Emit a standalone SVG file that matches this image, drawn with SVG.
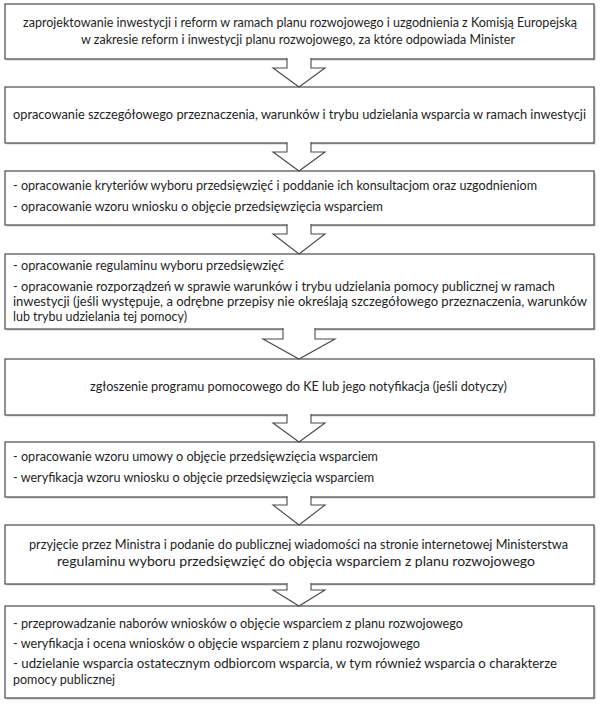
<svg xmlns="http://www.w3.org/2000/svg" width="600" height="706" viewBox="0 0 600 706">
<defs>
<style>
.box{fill:#fff;stroke:#4a4a4a;stroke-width:1.2}
.sh{fill:#a8a8a8;opacity:0.6}
.arr{fill:#fff;stroke:#4a4a4a;stroke-width:1.1;stroke-linejoin:miter}
text{font-family:Lato,"Open Sans","Liberation Sans",sans-serif;font-size:12.5px;fill:#1e1e1e}
.c{text-anchor:middle}
</style>
</defs>
<rect width="600" height="706" fill="#fff"/>
<g id="node1">
<rect class="sh" x="6.5" y="5.5" width="589" height="55"/>
<rect class="box" x="5" y="4" width="589" height="55"/>
<text class="c" x="300" y="27" textLength="554" lengthAdjust="spacingAndGlyphs">zaprojektowanie inwestycji i reform w ramach planu rozwojowego i uzgodnienia z Komisją  Europejską</text>
<text class="c" x="298" y="44" textLength="434" lengthAdjust="spacingAndGlyphs">w zakresie reform i inwestycji planu rozwojowego, za które odpowiada Minister</text>
</g>
<g id="node2">
<rect class="sh" x="6.5" y="88.5" width="589" height="56"/>
<rect class="box" x="5" y="87" width="589" height="56"/>
<text class="c" x="299.5" y="119" textLength="573" lengthAdjust="spacingAndGlyphs">opracowanie szczegółowego przeznaczenia, warunków i trybu udzielania wsparcia w ramach inwestycji</text>
</g>
<g id="node3">
<rect class="sh" x="6.5" y="172.5" width="589" height="54"/>
<rect class="box" x="5" y="171" width="589" height="54"/>
<text x="13" y="190" textLength="524" lengthAdjust="spacingAndGlyphs">- opracowanie kryteriów wyboru przedsięwzięć i poddanie ich konsultacjom  oraz uzgodnieniom</text>
<text x="13" y="211" textLength="370" lengthAdjust="spacingAndGlyphs">- opracowanie wzoru wniosku o objęcie przedsięwzięcia wsparciem</text>
</g>
<g id="node4">
<rect class="sh" x="6.5" y="255.5" width="589" height="75"/>
<rect class="box" x="5" y="254" width="589" height="75"/>
<text x="13" y="270" textLength="271" lengthAdjust="spacingAndGlyphs">- opracowanie regulaminu wyboru przedsięwzięć</text>
<text x="13" y="291" textLength="542" lengthAdjust="spacingAndGlyphs">- opracowanie rozporządzeń w sprawie warunków i trybu udzielania pomocy publicznej w ramach</text>
<text x="13" y="306" textLength="574" lengthAdjust="spacingAndGlyphs">inwestycji (jeśli występuje, a odrębne przepisy nie określają szczegółowego przeznaczenia, warunków</text>
<text x="13" y="321" textLength="174" lengthAdjust="spacingAndGlyphs">lub trybu udzielania tej pomocy)</text>
</g>
<g id="node5">
<rect class="sh" x="6.5" y="360.5" width="589" height="56"/>
<rect class="box" x="5" y="359" width="589" height="56"/>
<text class="c" x="298.5" y="391" textLength="417" lengthAdjust="spacingAndGlyphs">zgłoszenie programu pomocowego do KE lub jego notyfikacja (jeśli dotyczy)</text>
</g>
<g id="node6">
<rect class="sh" x="6.5" y="443.5" width="589" height="55"/>
<rect class="box" x="5" y="442" width="589" height="55"/>
<text x="13" y="461" textLength="365" lengthAdjust="spacingAndGlyphs">- opracowanie wzoru umowy o objęcie przedsięwzięcia wsparciem</text>
<text x="13" y="482" textLength="361" lengthAdjust="spacingAndGlyphs">- weryfikacja wzoru wniosku o objęcie przedsięwzięcia wsparciem</text>
</g>
<g id="node7">
<rect class="sh" x="6.5" y="526.5" width="589" height="59"/>
<rect class="box" x="5" y="525" width="589" height="59"/>
<text class="c" x="298.5" y="549" textLength="539" lengthAdjust="spacingAndGlyphs">przyjęcie przez Ministra i podanie do publicznej wiadomości na stronie internetowej Ministerstwa</text>
<text class="c" x="296" y="566" textLength="478" lengthAdjust="spacingAndGlyphs">regulaminu wyboru przedsięwzięć do objęcia wsparciem z planu rozwojowego</text>
</g>
<g id="node8">
<rect class="sh" x="6.5" y="607.5" width="589" height="92"/>
<rect class="box" x="5" y="606" width="589" height="92"/>
<text x="13" y="628" textLength="450" lengthAdjust="spacingAndGlyphs">- przeprowadzanie naborów wniosków o objęcie wsparciem z planu rozwojowego</text>
<text x="13" y="648" textLength="407" lengthAdjust="spacingAndGlyphs">- weryfikacja i ocena wniosków  o objęcie wsparciem z planu rozwojowego</text>
<text x="13" y="668" textLength="544" lengthAdjust="spacingAndGlyphs">-  udzielanie wsparcia ostatecznym odbiorcom  wsparcia, w tym również wsparcia o charakterze</text>
<text x="13" y="684" textLength="102" lengthAdjust="spacingAndGlyphs">pomocy publicznej</text>
</g>
<g id="connectors">
<path class="arr" d="M287,58 L287,68 L273,68 L299,87 L325,68 L311,68 L311,58"/>
<path class="arr" d="M287,142 L287,152 L273,152 L299,171 L325,152 L311,152 L311,142"/>
<path class="arr" d="M287,224 L287,234 L273,234 L299,254 L325,234 L311,234 L311,224"/>
<path class="arr" d="M283,328 L283,339 L263,339 L299,359 L335,339 L315,339 L315,328"/>
<path class="arr" d="M287,414 L287,423 L273,423 L299,442 L325,423 L311,423 L311,414"/>
<path class="arr" d="M287,496 L287,505 L273,505 L299,525 L325,505 L311,505 L311,496"/>
<path class="arr" d="M287,583 L287,590 L273,590 L299,606 L325,590 L311,590 L311,583"/>
</g>
</svg>
